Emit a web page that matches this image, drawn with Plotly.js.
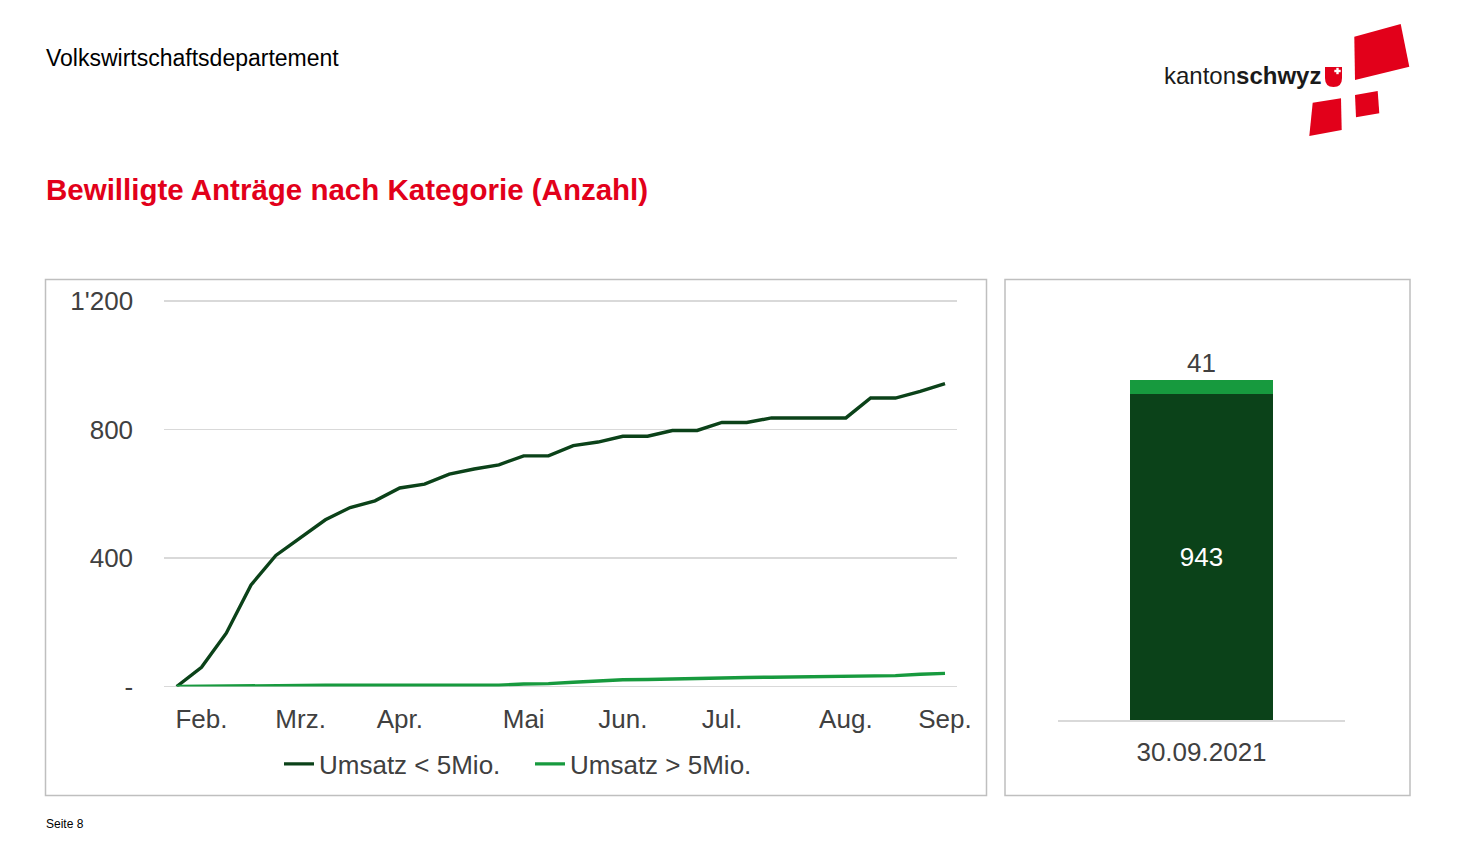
<!DOCTYPE html>
<html>
<head>
<meta charset="utf-8">
<script src="https://cdn.plot.ly/plotly-3.0.1.min.js"></script>
<style>
html,body{margin:0;padding:0;background:#fff;}
#chart{width:1470px;height:861px;}
</style>
</head>
<body>
<div id="chart"></div>
<script>
// ---- data ----
const weeks = ["2021-01-29","2021-02-05","2021-02-12","2021-02-19","2021-02-26","2021-03-05","2021-03-12","2021-03-19","2021-03-26","2021-04-02","2021-04-09","2021-04-16","2021-04-23","2021-04-30","2021-05-07","2021-05-14","2021-05-21","2021-05-28","2021-06-04","2021-06-11","2021-06-18","2021-06-25","2021-07-02","2021-07-09","2021-07-16","2021-07-23","2021-07-30","2021-08-06","2021-08-13","2021-08-20","2021-08-27","2021-09-03"];
const umsatzUnter5 = [0,60,166,316,408,464,519,557,578,618,630,661,677,690,718,718,750,761,779,779,797,797,822,822,836,836,836,836,898,898,919,943];
const umsatzUeber5 = [0,1,2,3,3,4,4,4,4,4,4,4,4,4,8,9,13,17,21,22,24,25,27,28,29,30,31,31,31,34,38,41];
const monthTickVals = ["2021-02-05","2021-03-05","2021-04-02","2021-05-07","2021-06-04","2021-07-02","2021-08-06","2021-09-03"];
const monthTickText = ["Feb.","Mrz.","Apr.","Mai","Jun.","Jul.","Aug.","Sep."];
const yTickVals = [0,400,800,1200];
const yTickText = ["-","400","800","1'200"];
const seriesNames = ["Umsatz < 5Mio.","Umsatz > 5Mio."];
const barDate = ["30.09.2021"];
const barUnter5 = [943];
const barUeber5 = [41];

// ---- styling ----
const W = 1470, H = 861;
const DARK = "#0b4219", LIGHT = "#179a3e", RED = "#e2001a", TXT = "#404040";
const FONT = "Liberation Sans, Arial, sans-serif";
const px = (x) => x / W;
const py = (y) => 1 - y / H;
function path(pts){ return "M" + pts.map(p => px(p[0]) + "," + py(p[1])).join(" L") + " Z"; }

const traces = [
  {x: weeks, y: umsatzUnter5, name: seriesNames[0], type: "scatter", mode: "lines",
   line: {color: DARK, width: 3.4}, xaxis: "x", yaxis: "y"},
  {x: weeks, y: umsatzUeber5, name: seriesNames[1], type: "scatter", mode: "lines",
   line: {color: LIGHT, width: 3.4}, xaxis: "x", yaxis: "y"},
  {x: barDate, y: barUnter5, type: "bar", marker: {color: DARK}, width: 0.5,
   text: barUnter5.map(String), textposition: "inside", insidetextanchor: "middle",
   textfont: {color: "#ffffff", size: 26, family: FONT}, showlegend: false,
   xaxis: "x2", yaxis: "y2"},
  {x: barDate, y: barUeber5, type: "bar", marker: {color: LIGHT}, width: 0.5,
   showlegend: false, xaxis: "x2", yaxis: "y2"}
];

const shapes = [
  {type: "rect", xref: "paper", yref: "paper", x0: px(45.5), x1: px(986.5), y0: py(279.5), y1: py(795.5),
   line: {color: "#bfbfbf", width: 1.5}},
  {type: "rect", xref: "paper", yref: "paper", x0: px(1005), x1: px(1410), y0: py(279.5), y1: py(795.5),
   line: {color: "#bfbfbf", width: 1.5}},
  // logo red squares
  {type: "path", xref: "paper", yref: "paper", path: path([[1354.3,36.7],[1400.7,24],[1409.3,66.7],[1355,80]]), fillcolor: RED, line: {width: 0}},
  {type: "path", xref: "paper", yref: "paper", path: path([[1312.7,102.7],[1341,98.3],[1341.7,130],[1309.3,136]]), fillcolor: RED, line: {width: 0}},
  {type: "path", xref: "paper", yref: "paper", path: path([[1355,95],[1377.7,91],[1379.3,113.3],[1356,117.3]]), fillcolor: RED, line: {width: 0}},
  // shield
  {type: "path", xref: "paper", yref: "paper",
   path: "M" + px(1325) + "," + py(67) + " L" + px(1342) + "," + py(67) + " L" + px(1342) + "," + py(78) +
         " Q" + px(1342) + "," + py(87) + " " + px(1333.5) + "," + py(87) +
         " Q" + px(1325) + "," + py(87) + " " + px(1325) + "," + py(78) + " Z",
   fillcolor: RED, line: {width: 0}},
  {type: "rect", xref: "paper", yref: "paper", x0: px(1336.3), x1: px(1338.7), y0: py(67.8), y1: py(74.2), fillcolor: "#fff", line: {width: 0}},
  {type: "rect", xref: "paper", yref: "paper", x0: px(1334.3), x1: px(1340.7), y0: py(69.8), y1: py(72.2), fillcolor: "#fff", line: {width: 0}}
];

const annotations = [
  {xref: "paper", yref: "paper", x: px(44), y: py(58), xanchor: "left", yanchor: "middle", showarrow: false,
   text: "Volkswirtschaftsdepartement", font: {family: FONT, size: 23, color: "#000"}},
  {xref: "paper", yref: "paper", x: px(44), y: py(190), xanchor: "left", yanchor: "middle", showarrow: false,
   text: "<b>Bewilligte Anträge nach Kategorie (Anzahl)</b>",
   font: {family: FONT, size: 29.5, color: RED}},
  {xref: "paper", yref: "paper", x: px(44), y: py(824), xanchor: "left", yanchor: "middle", showarrow: false,
   text: "Seite 8", font: {family: FONT, size: 12, color: "#000"}},
  {xref: "paper", yref: "paper", x: px(1323), y: py(76), xanchor: "right", yanchor: "middle", showarrow: false,
   text: "kanton<b>schwyz</b>", font: {family: FONT, size: 24, color: "#1a1a1a"}},
  {xref: "x2", yref: "y2", x: barDate[0], y: barUnter5[0] + barUeber5[0], xanchor: "center", yanchor: "bottom",
   showarrow: false, text: String(barUeber5[0]), font: {family: FONT, size: 26, color: TXT}}
];

const layout = {
  width: W, height: H,
  margin: {l: 0, r: 0, t: 0, b: 0},
  paper_bgcolor: "#fff", plot_bgcolor: "rgba(0,0,0,0)",
  font: {family: FONT, color: TXT, size: 26},
  barmode: "stack",
  showlegend: true,
  legend: {orientation: "h", traceorder: "normal", x: px(530), xanchor: "center", y: py(764), yanchor: "middle",
           font: {family: FONT, size: 26, color: TXT}, itemwidth: 30, entrywidth: 206, entrywidthmode: "pixels",
           tracegroupgap: 0, bgcolor: "rgba(0,0,0,0)"},
  xaxis: {domain: [px(164.3), px(957.4)], type: "category", range: [-0.5, 31.5],
          tickmode: "array", tickvals: monthTickVals, ticktext: monthTickText,
          showgrid: false, zeroline: false, showline: false,
          ticks: "outside", ticklen: 9, tickcolor: "rgba(0,0,0,0)",
          tickfont: {family: FONT, size: 26, color: TXT}, fixedrange: true},
  yaxis: {domain: [py(686.5), py(297.8)], range: [0, 1210],
          tickmode: "array", tickvals: yTickVals, ticktext: yTickText,
          showgrid: true, gridcolor: "#d9d9d9", gridwidth: 1.5,
          zeroline: true, zerolinecolor: "#d9d9d9", zerolinewidth: 1.5, showline: false,
          ticks: "outside", ticklen: 25, tickcolor: "rgba(0,0,0,0)",
          tickfont: {family: FONT, size: 26, color: TXT}, fixedrange: true},
  xaxis2: {domain: [px(1058), px(1345)], anchor: "y2", type: "category", range: [-0.5, 0.5],
           showgrid: false, zeroline: false, showline: true, linecolor: "#d9d9d9", linewidth: 1.5,
           ticks: "outside", ticklen: 8, tickcolor: "rgba(0,0,0,0)",
           tickfont: {family: FONT, size: 26, color: TXT}, fixedrange: true},
  yaxis2: {domain: [py(720), py(305.4)], anchor: "x2", range: [0, 1200], visible: false, fixedrange: true},
  shapes: shapes,
  annotations: annotations
};

Plotly.newPlot("chart", traces, layout, {staticPlot: true, displayModeBar: false});
</script>
</body>
</html>
